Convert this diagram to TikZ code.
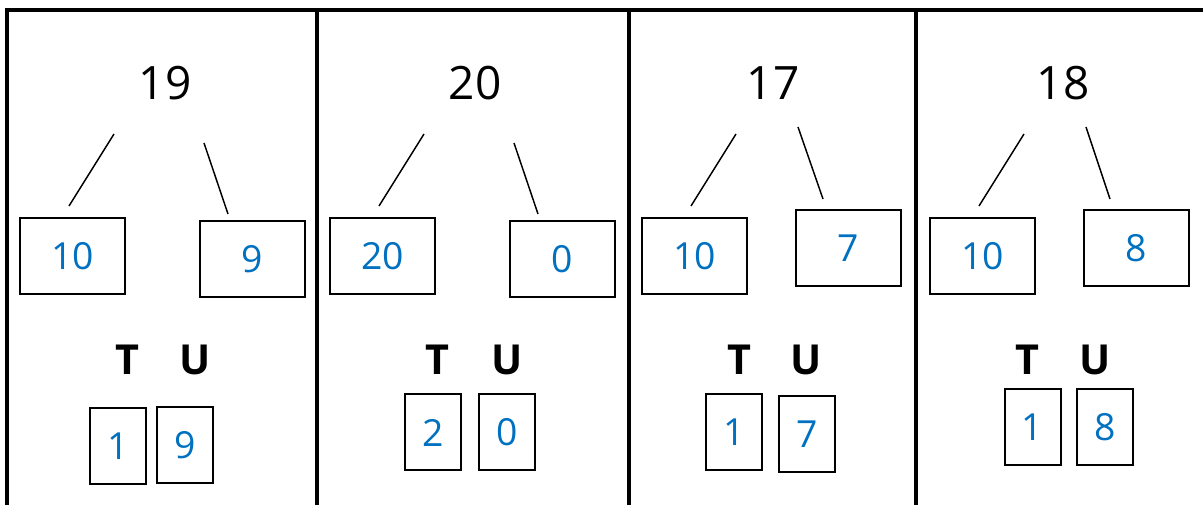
\documentclass[tikz,border=0pt]{standalone}
\usepackage{fontspec}
\setmainfont{Open Sans}
\usetikzlibrary{positioning}
\definecolor{digitblue}{RGB}{0,112,192}
\tikzset{
	every node/.style={inner sep=0pt}, % boxes are sized by hand
	whole/.style={font=\fontsize{34.5}{34.5}\selectfont},
	partbox/.style={draw, line width=1.5pt, minimum width=78.75pt, minimum height=57pt, text=digitblue, font=\fontsize{28}{28}\selectfont},
	placebox/.style={partbox, minimum width=42pt},
	placelabel/.style={font=\bfseries\fontsize{31}{31}\selectfont},
	border/.style={line width=3pt},
	branch/.style={line width=1.1pt},
}

\begin{document}
\begin{tikzpicture}[x=0.75pt, y=-0.75pt]
		\useasboundingbox (0,0) rectangle (1203,505);
		\draw[border] (7,505) -- (7,10) -- (1203,10);
		\draw[border] (317,10) -- (317,505);
		\draw[border] (629,10) -- (629,505);
		\draw[border] (916,10) -- (916,505);
		
		\node[whole] (whole1) at (165,83) {19};
		\coordinate (lt1) at (114,134);
		\coordinate (lb1) at (69,206);
		\coordinate (rt1) at (204,143);
		\coordinate (rb1) at (228,214);
		\draw[branch] (lt1) -- (lb1);
		\draw[branch] (rt1) -- (rb1);
		\node[partbox] (tens1) at (72.5,256) {10};
		\node[partbox] (ones1) at (252.5,259) {9};
		\node[placelabel] (T1) at (127,360) {T};
		\node[placelabel] (U1) at (195,360) {U};
		\node[placebox] (t1) at (118,446) {1};
		\node[placebox] (u1) at (185,445) {9};
		
		\node[whole] (whole2) at (475,83) {20};
		\coordinate (lt2) at (424,134);
		\coordinate (lb2) at (379,206);
		\coordinate (rt2) at (514,143);
		\coordinate (rb2) at (538,214);
		\draw[branch] (lt2) -- (lb2);
		\draw[branch] (rt2) -- (rb2);
		\node[partbox] (tens2) at (382.5,256) {20};
		\node[partbox] (ones2) at (562.5,259) {0};
		\node[placelabel] (T2) at (437,360) {T};
		\node[placelabel] (U2) at (507,360) {U};
		\node[placebox] (t2) at (433,432.5) {2};
		\node[placebox] (u2) at (507,432.5) {0};
		
		\node[whole] (whole3) at (773,83) {17};
		\coordinate (lt3) at (736,134);
		\coordinate (lb3) at (691,206);
		\coordinate (rt3) at (798,127);
		\coordinate (rb3) at (823,199);
		\draw[branch] (lt3) -- (lb3);
		\draw[branch] (rt3) -- (rb3);
		\node[partbox] (tens3) at (694.5,256) {10};
		\node[partbox] (ones3) at (848,248) {7};
		\node[placelabel] (T3) at (739,360) {T};
		\node[placelabel] (U3) at (806,360) {U};
		\node[placebox] (t3) at (734,432.5) {1};
		\node[placebox] (u3) at (807,434) {7};
		
		\node[whole] (whole4) at (1063,83) {18};
		\coordinate (lt4) at (1024,134);
		\coordinate (lb4) at (979,206);
		\coordinate (rt4) at (1086,127);
		\coordinate (rb4) at (1110,199);
		\draw[branch] (lt4) -- (lb4);
		\draw[branch] (rt4) -- (rb4);
		\node[partbox] (tens4) at (982.5,256) {10};
		\node[partbox] (ones4) at (1136,248.5) {8};
		\node[placelabel] (T4) at (1027,360) {T};
		\node[placelabel] (U4) at (1095,360) {U};
		\node[placebox] (t4) at (1032.5,427) {1};
		\node[placebox] (u4) at (1105,427) {8};
\end{tikzpicture}
\end{document}
